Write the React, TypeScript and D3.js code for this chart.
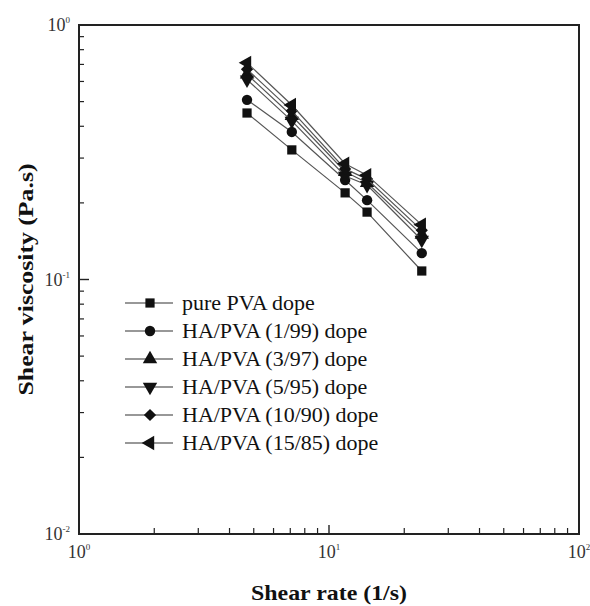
import React from "react";
import * as d3 from "d3";

const shearRate = [4.7, 7.1, 11.6, 14.2, 23.5];
const seriesNames = [
  "pure PVA dope",
  "HA/PVA (1/99) dope",
  "HA/PVA (3/97) dope",
  "HA/PVA (5/95) dope",
  "HA/PVA (10/90) dope",
  "HA/PVA (15/85) dope",
];
const purePVA = [0.451, 0.323, 0.219, 0.184, 0.108];
const ha1 = [0.508, 0.38, 0.246, 0.205, 0.127];
const ha3 = [0.64, 0.44, 0.265, 0.24, 0.15];
const ha5 = [0.61, 0.42, 0.255, 0.235, 0.143];
const ha10 = [0.67, 0.46, 0.272, 0.248, 0.156];
const ha15 = [0.71, 0.485, 0.285, 0.257, 0.164];
const seriesValues = [purePVA, ha1, ha3, ha5, ha10, ha15];
const markerKinds = ["square", "circle", "up", "down", "diamond", "left"];

const xTickExps = [0, 1, 2];
const yTickExps = [0, -1, -2];

const W = 590, H = 606;
const L = 79, R = 579, T = 25, B = 534;

function Marker({ kind, x, y }: { kind: string; x: number; y: number }) {
  let path = "";
  let rot = 0;
  if (kind === "square") path = d3.symbol(d3.symbolSquare, 85)()!;
  else if (kind === "circle") path = d3.symbol(d3.symbolCircle, 85)()!;
  else if (kind === "diamond") { path = d3.symbol(d3.symbolSquare, 75)()!; rot = 45; }
  else {
    path = d3.symbol(d3.symbolTriangle, 90)()!;
    rot = kind === "up" ? 0 : kind === "down" ? 180 : -90;
  }
  return <path d={path} transform={`translate(${x},${y}) rotate(${rot})`} fill="#111" />;
}

export default function App() {
  const x = d3.scaleLog().domain([1, 100]).range([L, R]);
  const y = d3.scaleLog().domain([0.01, 1]).range([B, T]);
  const line = d3
    .line<number>()
    .x((_, i) => x(shearRate[i]))
    .y((d) => y(d));

  const minorX: number[] = [];
  for (let e = 0; e < 2; e++) for (let k = 2; k <= 9; k++) minorX.push(k * Math.pow(10, e));
  const minorY: number[] = [];
  for (let e = -2; e < 0; e++) for (let k = 2; k <= 9; k++) minorY.push(k * Math.pow(10, e));

  const font = "'Liberation Serif', 'Times New Roman', serif";
  const legX = 150, legY0 = 303, legDy = 28;

  return (
    <div style={{ position: "absolute", left: 0, top: 0 }}>
      <svg width={W} height={H} style={{ display: "block", background: "#fff" }} fontFamily={font}>
        {/* ticks */}
        {minorX.map((v) => (
          <line key={"mx" + v} x1={x(v)} x2={x(v)} y1={B} y2={B - 6} stroke="#222" strokeWidth={1.2} />
        ))}
        {xTickExps.map((e) => (
          <line key={"Mx" + e} x1={x(Math.pow(10, e))} x2={x(Math.pow(10, e))} y1={B} y2={B - 9} stroke="#222" strokeWidth={1.4} />
        ))}
        {minorY.map((v) => (
          <line key={"my" + v} x1={L} x2={L + 5} y1={y(v)} y2={y(v)} stroke="#222" strokeWidth={1.2} />
        ))}
        {yTickExps.map((e) => (
          <line key={"My" + e} x1={L} x2={L + 10} y1={y(Math.pow(10, e))} y2={y(Math.pow(10, e))} stroke="#222" strokeWidth={1.4} />
        ))}
        <rect x={L} y={T} width={R - L} height={B - T} fill="none" stroke="#222" strokeWidth={2} />

        {/* tick labels */}
        {xTickExps.map((e) => (
          <text key={"tx" + e} x={x(Math.pow(10, e))} y={558} textAnchor="middle" fontSize={18} fill="#333">
            10<tspan dy={-8} fontSize={9}>{e}</tspan>
          </text>
        ))}
        {yTickExps.map((e) => (
          <text key={"ty" + e} x={70} y={y(Math.pow(10, e)) + 6} textAnchor="end" fontSize={18} fill="#333">
            10<tspan dy={-8} fontSize={9}>{e}</tspan>
          </text>
        ))}

        {/* axis titles */}
        <text
          x={(L + R) / 2}
          y={600}
          textAnchor="middle"
          fontSize={22}
          fontWeight="bold"
          fill="#111"
          textLength={156}
          lengthAdjust="spacingAndGlyphs"
        >
          Shear rate (1/s)
        </text>
        <text
          transform={`translate(33,${(T + B) / 2}) rotate(-90)`}
          textAnchor="middle"
          fontSize={21}
          fontWeight="bold"
          fill="#111"
          textLength={232}
          lengthAdjust="spacingAndGlyphs"
        >
          Shear viscosity (Pa.s)
        </text>

        {/* series */}
        {seriesValues.map((vals, si) => (
          <g key={"s" + si}>
            <path d={line(vals)!} fill="none" stroke="#555" strokeWidth={1.2} />
            {vals.map((v, i) => (
              <Marker key={i} kind={markerKinds[si]} x={x(shearRate[i])} y={y(v)} />
            ))}
          </g>
        ))}

        {/* legend */}
        {seriesNames.map((name, i) => {
          const yy = legY0 + i * legDy;
          return (
            <g key={"l" + i}>
              <line x1={legX - 25} x2={legX + 23} y1={yy} y2={yy} stroke="#333" strokeWidth={1.2} />
              <Marker kind={markerKinds[i]} x={legX} y={yy} />
              <text
                transform={`translate(182,${yy + 7}) scale(1.1,1)`}
                fontSize={20}
                fill="#111"
              >
                {name}
              </text>
            </g>
          );
        })}
      </svg>
    </div>
  );
}
